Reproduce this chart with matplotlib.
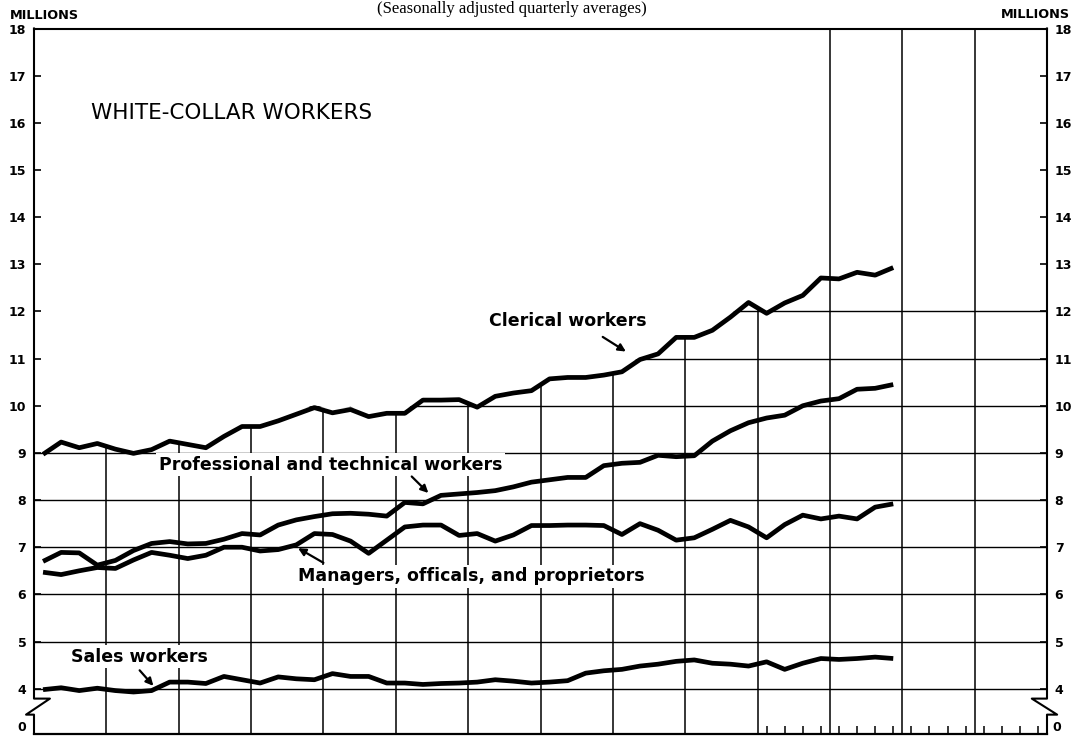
import numpy as np
import matplotlib.pyplot as plt
from matplotlib.patches import Polygon

# quarterly averages, millions
clerical = [8.97, 9.23, 9.11, 9.20, 9.08, 8.99, 9.07, 9.25, 9.18, 9.11,
            9.35, 9.56, 9.56, 9.68, 9.82, 9.96, 9.85, 9.92, 9.77, 9.84,
            9.84, 10.12, 10.12, 10.13, 9.97, 10.20, 10.27, 10.32, 10.57, 10.60,
            10.60, 10.65, 10.72, 10.98, 11.10, 11.45, 11.45, 11.60, 11.88, 12.19,
            11.96, 12.18, 12.34, 12.71, 12.69, 12.83, 12.77, 12.93]
professional = [6.70, 6.89, 6.88, 6.62, 6.72, 6.93, 7.08, 7.12, 7.07, 7.08,
                7.17, 7.29, 7.26, 7.47, 7.58, 7.65, 7.71, 7.72, 7.70, 7.66,
                7.95, 7.92, 8.10, 8.13, 8.16, 8.20, 8.28, 8.38, 8.43, 8.48,
                8.48, 8.73, 8.78, 8.80, 8.95, 8.92, 8.94, 9.25, 9.47, 9.64,
                9.74, 9.80, 10.00, 10.10, 10.15, 10.35, 10.37, 10.45]
managers = [6.47, 6.42, 6.50, 6.57, 6.55, 6.73, 6.89, 6.83, 6.76, 6.83,
            7.00, 7.00, 6.92, 6.95, 7.05, 7.29, 7.27, 7.13, 6.87, 7.15,
            7.43, 7.47, 7.47, 7.25, 7.29, 7.13, 7.26, 7.46, 7.46, 7.47,
            7.47, 7.46, 7.27, 7.50, 7.36, 7.15, 7.20, 7.38, 7.57, 7.43,
            7.20, 7.48, 7.68, 7.60, 7.66, 7.60, 7.85, 7.92]
sales = [3.98, 4.02, 3.96, 4.01, 3.96, 3.93, 3.96, 4.14, 4.14, 4.11,
         4.26, 4.19, 4.12, 4.25, 4.21, 4.19, 4.32, 4.26, 4.26, 4.12,
         4.12, 4.09, 4.11, 4.12, 4.14, 4.19, 4.16, 4.12, 4.14, 4.17,
         4.33, 4.38, 4.41, 4.48, 4.52, 4.58, 4.61, 4.54, 4.52, 4.48,
         4.57, 4.41, 4.54, 4.64, 4.62, 4.64, 4.67, 4.64]

y_ticks = list(range(4, 19))
y_labels = [str(v) for v in y_ticks]

n_years = 14
t = (np.arange(len(clerical)) + 0.5) / 4   # mid-quarter, in years
y_bottom = 3.05                              # where "0" sits after the scale break

plt.rcParams['font.family'] = ['DejaVu Sans']
plt.rcParams['font.weight'] = 'bold'

W, H = 1079, 736
fig = plt.figure(figsize=(W / 100, H / 100), dpi=100)
ax = fig.add_axes([34 / W, 2.5 / H, 1013 / W, 705 / H])
ax.set_xlim(0, n_years)
ax.set_ylim(y_bottom, 18)

# grid only under the clerical curve
verts = [(0, y_bottom), (0, clerical[0] + 0.06)]
verts += [(x, v + 0.06) for x, v in zip(t, clerical)]
verts += [(n_years, clerical[-1] + 0.06), (n_years, y_bottom)]
h_clip = Polygon(verts, closed=True, transform=ax.transData)
for v in y_ticks:
    if v > max(clerical):
        continue
    ln = ax.axhline(v, color='black', lw=1.0, zorder=1)
    ln.set_clip_path(h_clip)

years = np.arange(1, n_years)
tops = np.where(years <= 10, np.interp(years, t, clerical), 18)
ax.vlines(years, y_bottom, tops, color='black', lw=1.1, zorder=1)

for s in [clerical, professional, managers, sales]:
    ax.plot(t, s, color='black', lw=3.4, solid_joinstyle='round',
            solid_capstyle='butt', zorder=3)

# axes frame with scale break
ax.spines['left'].set_visible(False)
ax.spines['right'].set_visible(False)
ax.spines['top'].set_linewidth(1.5)
ax.spines['bottom'].set_linewidth(1.6)
ax.plot([0, 0, 0.22, -0.11, 0, 0], [18, 3.79, 3.79, 3.45, 3.45, y_bottom],
        color='black', lw=1.5, clip_on=False, zorder=4)
ax.plot([14, 14, 13.79, 14.14, 14, 14], [18, 3.79, 3.79, 3.45, 3.45, y_bottom],
        color='black', lw=1.5, clip_on=False, zorder=4)

ax.set_yticks(y_ticks)
ax.set_yticklabels(y_labels)
ax.tick_params(axis='y', direction='in', length=5, width=1.2, left=True,
               right=True, labelleft=True, labelright=True, pad=5.5, labelsize=9)
ax.set_xticks((np.arange(40, 56) + 0.5) / 4)
ax.tick_params(axis='x', direction='in', length=6, width=1.1, labelbottom=False)
ax.text(-0.11, 3.17, '0', ha='right', va='center', fontsize=9)
ax.text(14.08, 3.17, '0', ha='left', va='center', fontsize=9)

# labels
box = dict(facecolor='white', edgecolor='none', pad=2)
ax.text(7.38, 11.79, 'Clerical workers', ha='center', va='center', fontsize=12.5, bbox=box, zorder=2)
ax.text(4.10, 8.75, 'Professional and technical workers', ha='center', va='center', fontsize=12.5, bbox=box, zorder=2)
ax.text(6.04, 6.38, 'Managers, officals, and proprietors', ha='center', va='center', fontsize=12.5, bbox=box, zorder=2)
ax.text(1.46, 4.68, 'Sales workers', ha='center', va='center', fontsize=12.5, bbox=box, zorder=2)

arrow = dict(arrowstyle='-|>', color='black', lw=1.6, mutation_scale=11, shrinkA=0, shrinkB=0)
ax.annotate('', xy=(8.18, 11.15), xytext=(7.86, 11.46), arrowprops=arrow)
ax.annotate('', xy=(5.45, 8.15), xytext=(5.22, 8.50), arrowprops=arrow)
ax.annotate('', xy=(3.65, 6.98), xytext=(4.00, 6.67), arrowprops=arrow)
ax.annotate('', xy=(1.65, 4.06), xytext=(1.46, 4.39), arrowprops=arrow)

ax.text(0.79, 16.09, 'WHITE-COLLAR WORKERS', fontsize=15.5, fontweight='normal', va='baseline')

fig.text(10 / W, 1 - 15.5 / H, 'MILLIONS', fontsize=9.3, ha='left', va='center')
fig.text(1070 / W, 1 - 14.7 / H, 'MILLIONS', fontsize=9.3, ha='right', va='center')
fig.text(512 / W, 1 - 1 / H, '(Seasonally adjusted quarterly averages)', family='Liberation Serif',
         fontsize=12, fontweight='normal', ha='center', va='top')

fig.savefig('out.png', dpi=100)
